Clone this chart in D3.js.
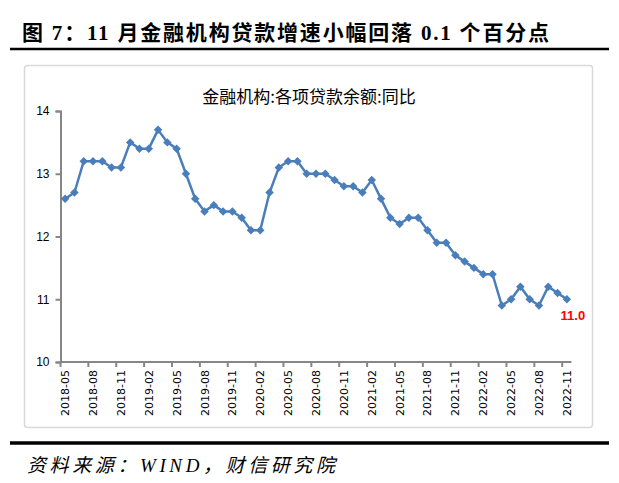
<!DOCTYPE html>
<html>
<head>
<meta charset="utf-8">
<script src="https://cdn.jsdelivr.net/npm/d3@7"></script>
<style>
    body { margin: 0; background: #fff; }
    svg { display: block; }
</style>
</head>
<body>
<script>
    // monthly data 2018-05 .. 2022-11
    var months = [];
    for (var yr = 2018; yr <= 2022; yr++) {
        for (var m = 1; m <= 12; m++) {
            if ((yr == 2018 && m < 5) || (yr == 2022 && m > 11)) continue;
            months.push(yr + "-" + (m < 10 ? "0" + m : m));
        }
    }
    var growth = [12.6, 12.7, 13.2, 13.2, 13.2, 13.1, 13.1, 13.5,
        13.4, 13.4, 13.7, 13.5, 13.4, 13.0, 12.6, 12.4, 12.5, 12.4, 12.4, 12.3,
        12.1, 12.1, 12.7, 13.1, 13.2, 13.2, 13.0, 13.0, 13.0, 12.9, 12.8, 12.8,
        12.7, 12.9, 12.6, 12.3, 12.2, 12.3, 12.3, 12.1, 11.9, 11.9, 11.7, 11.6,
        11.5, 11.4, 11.4, 10.9, 11.0, 11.2, 11.0, 10.9, 11.2, 11.1, 11.0];
    var yTicks = [10, 11, 12, 13, 14];

    var W = 619, H = 483;
    var svg = d3.select("body").append("svg").attr("width", W).attr("height", H);

    // header
    svg.append("text")
        .attr("x", 22).attr("y", 40)
        .style("font-family", "'Liberation Serif', 'Noto Sans CJK SC', serif")
        .style("font-weight", "bold")
        .style("font-size", "21px")
        .style("letter-spacing", "1.8px")
        .text("图 7：11 月金融机构贷款增速小幅回落 0.1 个百分点");
    svg.append("line").attr("x1", 10).attr("x2", 609).attr("y1", 49).attr("y2", 49)
        .attr("stroke", "#000").attr("stroke-width", 2.5);

    // chart frame
    svg.append("rect").attr("x", 24.5).attr("y", 65.5).attr("width", 568).attr("height", 362)
        .attr("rx", 3).attr("fill", "#fff").attr("stroke", "#d9d9d9").attr("stroke-width", 1.5);

    svg.append("text")
        .attr("x", 309).attr("y", 103).attr("text-anchor", "middle")
        .style("font-family", "'Noto Sans CJK SC', sans-serif")
        .style("font-size", "17px")
        .text("金融机构:各项贷款余额:同比");

    var x = d3.scaleBand().domain(months).range([60.5, 571.5]).padding(0);
    var y = d3.scaleLinear().domain([10, 14]).range([362, 111]);
    var cx = function (d) { return x(d) + x.bandwidth() / 2; };

    // y axis
    var yAxis = d3.axisLeft(y).tickValues(yTicks).tickFormat(d3.format("d")).tickSize(5).tickPadding(6);
    var gy = svg.append("g").attr("transform", "translate(60.5,0)").call(yAxis);
    gy.select(".domain").attr("stroke", "#868686").attr("stroke-width", 2);
    gy.selectAll(".tick line").attr("stroke", "#868686").attr("stroke-width", 2);
    gy.selectAll("text").style("font-family", "'Liberation Sans', Arial, sans-serif")
        .style("font-size", "12px").attr("fill", "#000");

    // x axis: ticks on category boundaries every 3 months, labels centered
    var gx = svg.append("g");
    gx.append("line").attr("x1", 60.5).attr("x2", 571.5).attr("y1", 362).attr("y2", 362)
        .attr("stroke", "#868686").attr("stroke-width", 2);
    var labeled = months.filter(function (d, i) { return i % 3 == 0; });
    gx.selectAll(".xt").data(labeled).enter().append("line")
        .attr("x1", function (d) { return x(d); }).attr("x2", function (d) { return x(d); })
        .attr("y1", 362).attr("y2", 367)
        .attr("stroke", "#868686").attr("stroke-width", 2);
    gx.selectAll(".xl").data(labeled).enter().append("text")
        .attr("transform", function (d) { return "translate(" + (cx(d) + 4) + ",370) rotate(-90)"; })
        .attr("text-anchor", "end")
        .style("font-family", "'DejaVu Sans', sans-serif")
        .style("font-size", "11px")
        .text(function (d) { return d; });

    // line
    var line = d3.line()
        .x(function (d, i) { return cx(months[i]); })
        .y(function (d) { return y(d); });
    svg.append("path").datum(growth)
        .attr("d", line).attr("fill", "none")
        .attr("stroke", "#4a7ebb").attr("stroke-width", 2.5);

    var diamond = d3.symbol().type(d3.symbolSquare).size(36);
    svg.selectAll(".pt").data(growth).enter().append("path")
        .attr("d", diamond)
        .attr("transform", function (d, i) { return "translate(" + cx(months[i]) + "," + y(d) + ") rotate(45)"; })
        .attr("fill", "#4a7ebb");

    // last value label
    var last = growth.length - 1;
    svg.append("text")
        .attr("x", cx(months[last]) + 6).attr("y", y(growth[last]) + 21)
        .attr("text-anchor", "middle")
        .style("font-family", "'Liberation Sans', Arial, sans-serif")
        .style("font-weight", "bold").style("font-size", "13px")
        .attr("fill", "#ff0000")
        .text(growth[last].toFixed(1));

    // footer
    svg.append("line").attr("x1", 10).attr("x2", 609).attr("y1", 443).attr("y2", 443)
        .attr("stroke", "#000").attr("stroke-width", 3.5);
    svg.append("text")
        .attr("x", 27).attr("y", 472)
        .style("font-family", "'Liberation Serif', 'Noto Sans CJK SC', serif")
        .style("font-style", "italic")
        .style("font-size", "19px")
        .style("letter-spacing", "3.6px")
        .text("资料来源：WIND，财信研究院");
</script>
</body>
</html>
